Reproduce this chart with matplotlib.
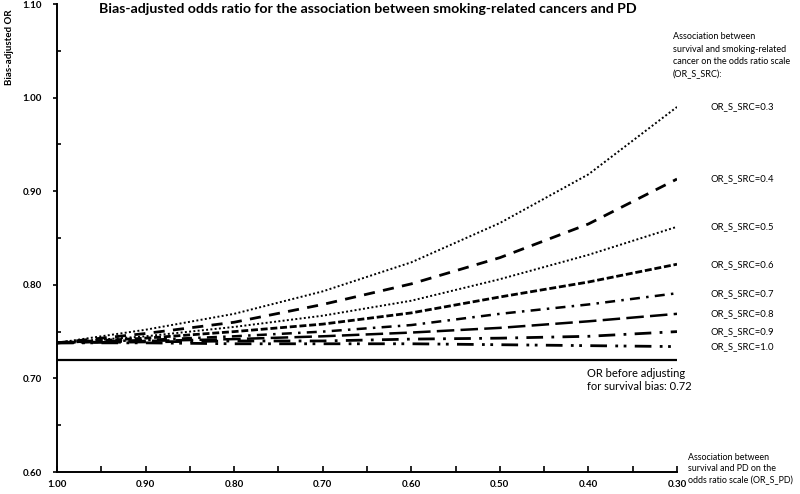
import matplotlib
matplotlib.use('Agg')
import matplotlib.pyplot as plt
from matplotlib.ticker import MultipleLocator, FormatStrFormatter

plt.rcParams['font.family'] = ['Lato', 'DejaVu Sans']

or_s_pd = [1.00, 0.90, 0.80, 0.70, 0.60, 0.50, 0.40, 0.30]

or_s_src_labels = ['0.3', '0.4', '0.5', '0.6', '0.7', '0.8', '0.9', '1.0']
adjusted_or = {
    '0.3': [0.738, 0.752, 0.769, 0.793, 0.824, 0.866, 0.918, 0.990],
    '0.4': [0.738, 0.748, 0.760, 0.779, 0.801, 0.829, 0.865, 0.913],
    '0.5': [0.738, 0.745, 0.755, 0.767, 0.783, 0.806, 0.832, 0.862],
    '0.6': [0.738, 0.743, 0.750, 0.758, 0.770, 0.787, 0.803, 0.822],
    '0.7': [0.738, 0.741, 0.745, 0.750, 0.757, 0.769, 0.779, 0.791],
    '0.8': [0.738, 0.740, 0.742, 0.745, 0.749, 0.754, 0.761, 0.769],
    '0.9': [0.738, 0.739, 0.740, 0.740, 0.742, 0.743, 0.745, 0.750],
    '1.0': [0.738, 0.738, 0.737, 0.737, 0.737, 0.736, 0.735, 0.734],
}
unadjusted_or = 0.72

styles = {
    '0.3': dict(linestyle=(0, (1, 1.2)), linewidth=1.4),
    '0.4': dict(linestyle=(0, (4, 3)), linewidth=2.0),
    '0.5': dict(linestyle=(0, (1, 1.2)), linewidth=1.4),
    '0.6': dict(linestyle=(0, (2.5, 1)), linewidth=2.0),
    '0.7': dict(linestyle=(0, (4, 2.5, 1, 2.5)), linewidth=1.8),
    '0.8': dict(linestyle=(0, (7, 2.5)), linewidth=1.8),
    '0.9': dict(linestyle=(0, (6, 3, 1, 3)), linewidth=2.0),
    '1.0': dict(linestyle=(0, (6, 3, 1, 2, 1, 3)), linewidth=2.0),
}

fig = plt.figure(figsize=(8, 4.94), dpi=100)
ax = fig.add_axes([0.07125, 0.0445, 0.775, 0.9474])

for key in or_s_src_labels:
    ax.plot(or_s_pd, adjusted_or[key], color='black', **styles[key])
    ax.text(0.262, adjusted_or[key][-1], 'OR_S_SRC=' + key, fontsize=6.8,
            va='center', ha='left', clip_on=False)

ax.plot([or_s_pd[0], or_s_pd[-1]], [unadjusted_or, unadjusted_or], color='black', linewidth=1.6)
ax.text(0.402, 0.698, 'OR before adjusting\nfor survival bias: 0.72', fontsize=8,
        va='center', ha='left', linespacing=1.25)

ax.set_xlim(1.0, 0.3)
ax.set_ylim(0.6, 1.1)
ax.spines['top'].set_visible(False)
ax.spines['right'].set_visible(False)
ax.spines['left'].set_linewidth(1.4)
ax.spines['bottom'].set_linewidth(1.4)

ax.xaxis.set_major_locator(MultipleLocator(0.1))
ax.xaxis.set_minor_locator(MultipleLocator(0.05))
ax.yaxis.set_major_locator(MultipleLocator(0.1))
ax.yaxis.set_minor_locator(MultipleLocator(0.05))
ax.xaxis.set_major_formatter(FormatStrFormatter('%.2f'))
ax.yaxis.set_major_formatter(FormatStrFormatter('%.2f'))
ax.tick_params(axis='x', which='both', direction='in', length=4, width=1.2, labelsize=7, pad=6)
ax.tick_params(axis='y', which='major', direction='out', length=3, width=1.2, labelsize=7, pad=8)
ax.tick_params(axis='y', which='minor', direction='in', length=3, width=1.2)
for lbl in ax.get_xticklabels() + ax.get_yticklabels():
    lbl.set_fontweight('bold')

fig.text(0.0125, 0.905, 'Bias-adjusted OR', rotation=90, fontsize=7, fontweight='bold',
         va='center', ha='center')
fig.text(0.46, 0.982, 'Bias-adjusted odds ratio for the association between smoking-related cancers and PD',
         fontsize=10.2, fontweight='bold', va='center', ha='center')
fig.text(0.841, 0.935, 'Association between\nsurvival and smoking-related\ncancer on the odds ratio scale\n(OR_S_SRC):',
         fontsize=6.5, va='top', ha='left', linespacing=1.5)
fig.text(0.86, 0.083, 'Association between\nsurvival and PD on the\nodds ratio scale (OR_S_PD)',
         fontsize=6.4, va='top', ha='left', linespacing=1.3)

fig.savefig('out.png', dpi=100)
